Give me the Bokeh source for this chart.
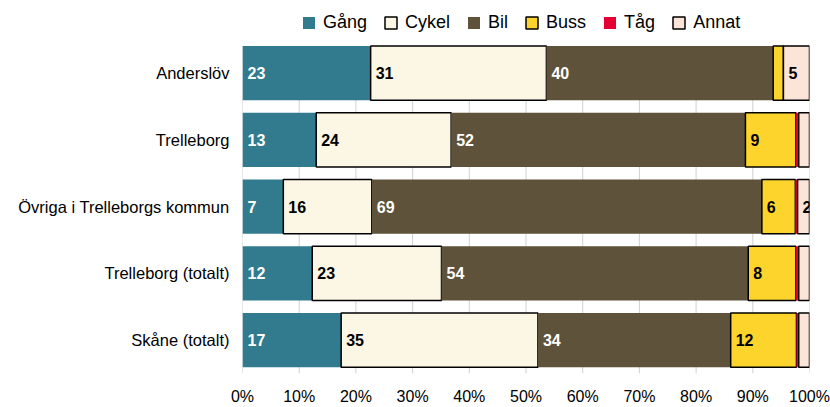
from bokeh.plotting import figure
from bokeh.models import (ColumnDataSource, Range1d, FixedTicker,
                          Legend, LegendItem)
from bokeh.core.properties import value
from bokeh.embed import file_html
from bokeh.resources import INLINE

categories = ["Anderslöv", "Trelleborg", "Övriga i Trelleborgs kommun",
              "Trelleborg (totalt)", "Skåne (totalt)"]
series_names = ["Gång", "Cykel", "Bil", "Buss", "Tåg", "Annat"]
gang = [22.6, 13.0, 7.2, 12.3, 17.4]
cykel = [31.0, 23.8, 15.6, 22.8, 34.7]
bil = [40.0, 51.9, 68.8, 54.1, 34.0]
buss = [1.8, 8.9, 5.9, 8.4, 11.6]
tag = [0.0, 0.5, 0.4, 0.5, 0.4]
annat = [4.6, 1.9, 2.1, 1.9, 1.9]
tick_values = [0, 10, 20, 30, 40, 50, 60, 70, 80, 90, 100]
tick_labels = ["0%", "10%", "20%", "30%", "40%", "50%", "60%", "70%", "80%", "90%", "100%"]

series_values = [gang, cykel, bil, buss, tag, annat]
fill_colors = ["#327B8E", "#FCF6E4", "#5E523A", "#FDD42B", "#E40032", "#FDE4D8"]
outlined = [False, True, False, True, False, True]
label_colors = ["white", "black", "white", "black", "black", "black"]

FONT = "Liberation Sans"
W, H = 830, 407
BORDER_L, BORDER_R, BORDER_B = 242, 21, 27
LEGEND_SPACE = 40          # px kept free above the bars for the legend
BAR_H = 0.81

n = len(categories)
ypos = list(range(n))       # category index, 0 at the top
frame_h = H - BORDER_B
band_px = (frame_h - LEGEND_SPACE) / n
top_pad = LEGEND_SPACE / band_px

p = figure(width=W, height=H, output_backend="svg", toolbar_location=None,
           x_range=Range1d(0, 100),
           y_range=Range1d(n - 0.5, -0.5 - top_pad),
           min_border_left=BORDER_L, min_border_right=BORDER_R,
           min_border_top=0, min_border_bottom=BORDER_B)
p.outline_line_color = None
p.background_fill_color = "white"
p.xgrid.visible = False
p.ygrid.visible = False

# vertical grid lines, only over the bar area
p.segment(x0=tick_values, x1=tick_values,
          y0=[-BAR_H / 2] * len(tick_values), y1=[n - 0.5] * len(tick_values),
          line_color="#D0D0D0", line_width=1, level="underlay")

left = [0.0] * n
items = []
for name, vals, fc, ol, lc in zip(series_names, series_values, fill_colors, outlined, label_colors):
    right = [l + v for l, v in zip(left, vals)]
    src = ColumnDataSource(dict(
        y=ypos, left=left, right=right,
        lbl=[str(round(v)) if v >= 2 else "" for v in vals]))
    r = p.hbar(y="y", left="left", right="right", height=BAR_H, source=src,
               fill_color=fc,
               line_color="black" if ol else None,
               line_width=1.5 if ol else 0)
    p.text(x="left", y="y", text="lbl", source=src, x_offset=5,
           text_align="left", text_baseline="middle",
           text_font=value(FONT), text_font_style="bold",
           text_font_size="16px", text_color=lc)
    items.append(LegendItem(label=name, renderers=[r]))
    left = right

legend = Legend(items=items, orientation="horizontal", location=(59, 340),
                glyph_width=15, glyph_height=15, label_text_font=FONT,
                label_text_font_size="18px", label_text_color="black",
                spacing=16, label_standoff=7,
                padding=0, margin=0, border_line_color=None,
                background_fill_alpha=0)
p.add_layout(legend)

p.xaxis.ticker = FixedTicker(ticks=tick_values)
p.xaxis.major_label_overrides = {v: t for v, t in zip(tick_values, tick_labels)}
p.yaxis.ticker = FixedTicker(ticks=ypos)
p.yaxis.major_label_overrides = {i: c for i, c in zip(ypos, categories)}
for ax in (p.xaxis, p.yaxis):
    ax.axis_line_color = None
    ax.major_tick_line_color = None
    ax.minor_tick_line_color = None
    ax.major_label_text_font = FONT
    ax.major_label_text_color = "black"
p.xaxis.major_label_text_font_size = "16px"
p.xaxis.major_label_standoff = 8
p.yaxis.major_label_text_font_size = "16.5px"
p.yaxis.major_label_standoff = 7

open("out.html", "w").write(file_html(p, INLINE))
